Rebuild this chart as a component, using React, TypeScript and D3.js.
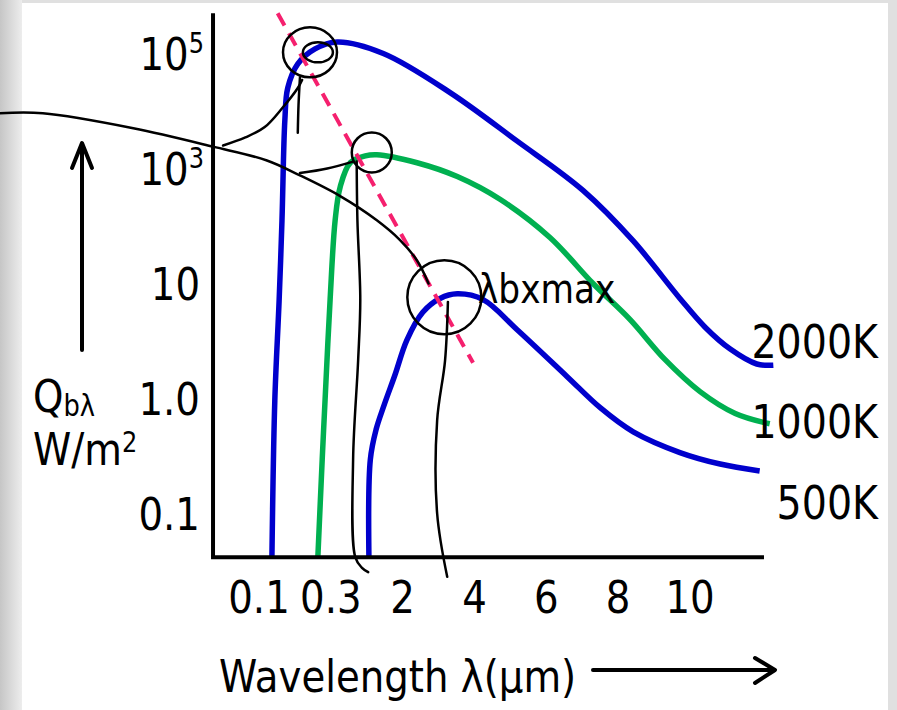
import React from 'react'
import * as d3 from 'd3'

const W = 897
const H = 710

// x axis tick labels (placed at index 0..6), y axis levels (0 = 0.1 ... 4 = 10^5)
const xTickLabels = ['0.1', '0.3', '2', '4', '6', '8', '10']
const yTickBase = ['0.1', '1.0', '10', '10', '10']
const yTickExp = ['', '', '', '3', '5']

// curves as [x index, y level]
const curve2000K = [
  [0.18, -0.37], [0.22, 0.98], [0.28, 1.85], [0.32, 2.55], [0.36, 3.42], [0.4, 3.7],
  [0.54, 3.91], [0.78, 4.04], [1.09, 4.1], [1.73, 4.0], [2.66, 3.66], [3.59, 3.24],
  [4.51, 2.81], [5.21, 2.37], [5.86, 1.87], [6.21, 1.62], [6.56, 1.43], [6.93, 1.3], [7.16, 1.29]
]
const curve1000K = [
  [0.82, -0.37], [0.88, 0.47], [0.92, 0.99], [0.99, 1.86], [1.06, 2.55], [1.13, 2.84],
  [1.27, 3.05], [1.48, 3.11], [1.64, 3.12], [2.2, 3.05], [2.76, 2.93], [3.36, 2.73],
  [4.05, 2.4], [4.65, 2.0], [5.16, 1.69], [5.65, 1.34], [6.14, 1.06], [6.63, 0.87], [7.11, 0.78]
]
const curve500K = [
  [1.53, -0.37], [1.55, 0.47], [1.63, 0.73], [1.74, 0.94], [1.89, 1.2], [2.06, 1.51],
  [2.28, 1.75], [2.52, 1.87], [2.76, 1.91], [3.12, 1.86], [3.59, 1.6], [4.29, 1.19],
  [4.75, 0.92], [5.21, 0.71], [5.86, 0.53], [6.42, 0.43], [6.97, 0.37]
]
const seriesNames = ['2000K', '1000K', '500K']
const seriesCurves = [curve2000K, curve1000K, curve500K]
const labelLevels = [1.5, 0.8, 0.1]

// Wien displacement line (through the peaks)
const wienLine = [[0.26, 4.35], [2.98, 1.31]]

// hand-drawn annotation strokes, same units
const noteLong = [
  [-3.61, 3.48], [-3.01, 3.48], [-1.75, 3.35], [-0.64, 3.19], [0.11, 3.07], [0.57, 2.94],
  [1.13, 2.76], [1.64, 2.55], [1.96, 2.38], [2.2, 2.2], [2.36, 2.0]
]
const noteBranch1 = [[-0.5, 3.2], [-0.19, 3.27], [0.08, 3.36], [0.33, 3.53], [0.54, 3.7], [0.6, 3.77]]
const noteTail1 = [[0.57, 3.79], [0.55, 3.55], [0.54, 3.31]]
const noteBranch2 = [[0.57, 2.96], [0.95, 3.0], [1.31, 3.06]]
const noteStem2 = [
  [1.36, 3.06], [1.37, 2.55], [1.41, 1.86], [1.38, 1.33], [1.31, 0.47], [1.34, -0.38], [1.43, -0.47], [1.52, -0.51]
]
const noteStem3 = [[2.63, 1.84], [2.59, 1.33], [2.48, 0.81], [2.48, 0.0], [2.62, -0.55]]
const noteCircles = [[0.71, 4.01], [0.82, 4.01], [1.57, 3.14], [2.58, 1.88]]
const noteText = 'λbxmax'

const xIdx = d3.scaleLinear().domain([0, 6]).range([259, 690])
const xTick = d3.scalePoint<string>().domain(xTickLabels).range([259, 690])
const yLvl = d3.scaleLinear().domain([0, 4]).range([513.5, 53.5])

const xMin = -0.64
const xMax = 7.03
const yMin = -0.38
const yMax = 4.35

const smoothLine = d3.line<number[]>()
  .x(d => xIdx(d[0]))
  .y(d => yLvl(d[1]))
  .curve(d3.curveCatmullRom.alpha(0.5))

const FONT = 'DejaVu Sans, Verdana, sans-serif'
const SX = 0.86

function Txt(props: { x: number, y: number, anchor?: string, size?: number, children: React.ReactNode }) {
  const { x, y, anchor = 'start', size = 45, children } = props
  return (
    <g transform={`translate(${x},${y}) scale(${SX},1)`}>
      <text textAnchor={anchor} fontSize={size} fontFamily={FONT} fill='#000'>
        {children}
      </text>
    </g>
  )
}

export default function App() {
  const colors = ['#0000CC', '#00B050', '#0000CC']
  const circleSizes = [[27, 25], [15, 10], [20, 20], [37, 37]]

  return (
    <svg width={W} height={H} style={{ position: 'absolute', left: 0, top: 0 }}>
      <defs>
        <linearGradient id='leftBand' x1='0' x2='1' y1='0' y2='0'>
          <stop offset='0%' stopColor='#c6c6c6' />
          <stop offset='100%' stopColor='#ededed' />
        </linearGradient>
      </defs>
      <rect x={0} y={0} width={W} height={H} fill='#e0e0e0' />
      <rect x={0} y={0} width={22} height={H} fill='url(#leftBand)' />
      <rect x={22} y={3} width={866} height={H - 3} fill='#fff' />

      {/* curves */}
      {seriesCurves.map((pts, i) => (
        <path key={'c' + i} d={smoothLine(pts) || ''} fill='none' stroke={colors[i]} strokeWidth={5.5} />
      ))}

      {/* Wien line */}
      <path d={d3.line<number[]>().x(d => xIdx(d[0])).y(d => yLvl(d[1]))(wienLine) || ''}
        fill='none' stroke='#F5206E' strokeWidth={4} strokeDasharray='14,9' />

      {/* axes */}
      <line x1={xIdx(xMin)} y1={yLvl(yMax)} x2={xIdx(xMin)} y2={yLvl(yMin)} stroke='#000' strokeWidth={4} />
      <line x1={xIdx(xMin) - 2} y1={yLvl(yMin)} x2={xIdx(xMax)} y2={yLvl(yMin)} stroke='#000' strokeWidth={4} />

      {/* y tick labels */}
      {yTickBase.map((t, i) => (
        <Txt key={'y' + i} x={yTickExp[i] ? 204 : 200} y={yLvl(i) + 16.5} anchor='end'>
          {t}
          {yTickExp[i] ? <tspan fontSize={28} dy={-17}>{yTickExp[i]}</tspan> : null}
        </Txt>
      ))}

      {/* x tick labels */}
      {xTickLabels.map(t => (
        <Txt key={'x' + t} x={xTick(t) || 0} y={613} anchor='middle'>{t}</Txt>
      ))}

      {/* series labels */}
      {seriesNames.map((n, i) => (
        <Txt key={'l' + n} x={878} y={yLvl(labelLevels[i]) + 16.5} anchor='end' size={46}>{n}</Txt>
      ))}

      {/* axis titles */}
      <Txt x={33} y={412}>Q<tspan fontSize={30} dy={4}>bλ</tspan></Txt>
      <Txt x={33} y={465}>W/m<tspan fontSize={28} dy={-13}>2</tspan></Txt>
      <Txt x={219} y={692}>Wavelength λ(μm)</Txt>

      {/* arrows */}
      <g stroke='#000' strokeWidth={4} fill='none' strokeLinecap='round' strokeLinejoin='round'>
        <line x1={82} y1={350} x2={82} y2={145} />
        <polyline points='72,168 82,143 92,168' />
        <line x1={593} y1={670} x2={772} y2={670} />
        <polyline points='755,658 775,670 755,683' />
      </g>

      {/* hand annotations */}
      <g stroke='#000' strokeWidth={2.5} fill='none' strokeLinecap='round'>
        {[noteLong, noteBranch1, noteTail1, noteBranch2, noteStem2, noteStem3].map((pts, i) => (
          <path key={'n' + i} d={smoothLine(pts) || ''} />
        ))}
        {noteCircles.map((c, i) => (
          <ellipse key={'e' + i} cx={xIdx(c[0])} cy={yLvl(c[1])} rx={circleSizes[i][0]} ry={circleSizes[i][1]} />
        ))}
      </g>
      <Txt x={478} y={303} size={40}>{noteText}</Txt>
    </svg>
  )
}
